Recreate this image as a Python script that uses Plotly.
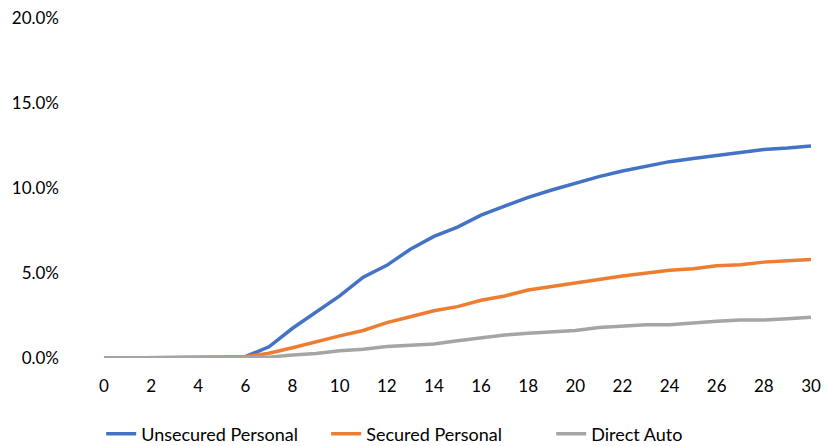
import plotly.graph_objects as go

# Months on book
months = list(range(0, 31))

# Cumulative loss rates (%)
unsecured_personal = [0, 0, 0, 0, 0, 0.05, 0.08, 0.66, 1.75, 2.7, 3.65, 4.75, 5.45, 6.4, 7.15, 7.7,
                      8.4, 8.94, 9.45, 9.88, 10.3, 10.67, 11.0, 11.28, 11.55, 11.73, 11.92,
                      12.1, 12.27, 12.35, 12.47]
secured_personal = [0, 0, 0, 0, 0, 0.05, 0.08, 0.28, 0.6, 0.96, 1.3, 1.62, 2.08, 2.43, 2.78, 3.02,
                    3.4, 3.65, 4.0, 4.2, 4.43, 4.62, 4.82, 4.98, 5.16, 5.25, 5.42,
                    5.49, 5.64, 5.72, 5.8]
direct_auto = [0, 0, 0, 0, 0, 0, 0, 0.05, 0.18, 0.27, 0.43, 0.51, 0.67, 0.74, 0.82, 1.02,
               1.21, 1.35, 1.45, 1.53, 1.62, 1.8, 1.88, 1.96, 1.96, 2.08, 2.16,
               2.24, 2.24, 2.31, 2.4]

series = [
    ("Unsecured Personal", unsecured_personal, "#4472C4"),
    ("Secured Personal", secured_personal, "#ED7D31"),
    ("Direct Auto", direct_auto, "#A5A5A5"),
]

y_ticks = [0, 5, 10, 15, 20]
y_tick_labels = ["0.0%", "5.0%", "10.0%", "15.0%", "20.0%"]
x_ticks = list(range(0, 31, 2))

fig = go.Figure()
for name, vals, color in series:
    fig.add_trace(go.Scatter(
        x=months, y=vals, name=name, mode="lines",
        line=dict(color=color, width=3.5),
    ))

font = dict(family="Lato, 'Open Sans', sans-serif", size=17, color="#000000")
legend_font = dict(family="Lato, 'Open Sans', sans-serif", size=18, color="#000000")

fig.update_layout(
    width=828, height=446,
    margin=dict(l=104, r=17, t=18, b=88, autoexpand=False),
    paper_bgcolor="white", plot_bgcolor="white",
    font=font,
    showlegend=True,
    legend=dict(orientation="h", x=-0.004, xanchor="left",
                y=-0.2235, yanchor="middle",
                font=legend_font, entrywidth=180, entrywidthmode="pixels",
                traceorder="normal", bgcolor="rgba(0,0,0,0)"),
)
fig.update_xaxes(range=[0, 30], tickvals=x_ticks, showgrid=False, zeroline=False,
                 showline=False, ticks="", tickfont=font, ticklabelstandoff=16)
fig.update_yaxes(range=[0, 20], tickvals=y_ticks, ticktext=y_tick_labels,
                 showgrid=False, zeroline=False, showline=False, ticks="",
                 tickfont=font, ticklabelstandoff=44)

fig.write_html("out.html")
